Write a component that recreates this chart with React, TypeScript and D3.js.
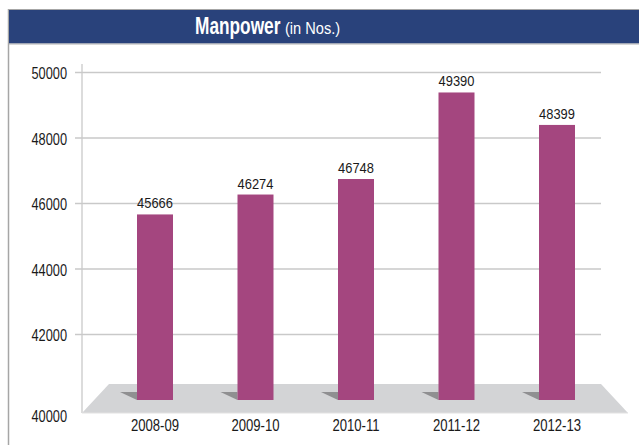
import * as d3 from 'd3'
import { useMemo } from 'react'

const categories = ['2008-09', '2009-10', '2010-11', '2011-12', '2012-13']
const manpower = [45666, 46274, 46748, 49390, 48399]
const yTicks = [40000, 42000, 44000, 46000, 48000, 50000]

const W = 639
const H = 445
const font = '"Liberation Sans", Arial, sans-serif'

// text squeezed horizontally, the original uses a narrow face
const Narrow = ({ x, y, sx = 0.82, anchor = 'middle', size = 16, weight = 'normal', fill = '#1a1a1a', children }: any) => (
  <g transform={`translate(${x},${y}) scale(${sx},1)`}>
    <text textAnchor={anchor} fontSize={size} fontWeight={weight} fill={fill} fontFamily={font}>
      {children}
    </text>
  </g>
)

const App = () => {
  const xScale = useMemo(() => d3.scalePoint<string>().domain(categories).range([155, 557]), [])
  const yScale = useMemo(() => d3.scaleLinear().domain([40000, 50000]).range([400, 72.5]), [])

  const barW = 36
  const base = yScale(40000)
  const floorBack = base - 16
  const floorFront = base + 13
  const floor = [[109, floorBack], [601, floorBack], [628, floorFront], [82, floorFront]]

  return (
    <svg width={W} height={H} style={{ position: 'absolute', left: 0, top: 0 }}>
      <rect x={0} y={0} width={W} height={H} fill="#fff" />
      {/* frame + header */}
      <line x1={8.5} x2={8.5} y1={9} y2={H} stroke="#a6a6a6" strokeWidth={1.5} />
      <line x1={8} x2={W} y1={9.5} y2={9.5} stroke="#a6a6a6" />
      <rect x={9} y={10} width={W - 9} height={33.5} fill="#29427b" />
      <line x1={9} x2={W} y1={44} y2={44} stroke="#b0b0b0" />
      <Narrow x={195} y={34} sx={0.72} size={24} weight="bold" fill="#fff" anchor="start">Manpower</Narrow>
      <Narrow x={285} y={34} sx={0.86} size={17} fill="#fff" anchor="start">(in Nos.)</Narrow>

      {/* grid */}
      {yTicks.filter((t) => t > 40000).map((t) => (
        <line key={t} x1={75} x2={601} y1={yScale(t)} y2={yScale(t)} stroke="#c9c9c9" strokeWidth={1.3} />
      ))}
      <line x1={82} x2={82} y1={64} y2={floorFront} stroke="#c9c9c9" strokeWidth={1.3} />

      {/* floor */}
      <polygon points={floor.map((p) => p.join(',')).join(' ')} fill="#d3d4d6" />
      <line x1={82} x2={628} y1={floorFront} y2={floorFront} stroke="#e2e2e2" />

      {yTicks.map((t) => (
        <Narrow key={t} x={67} y={t === 40000 ? floorFront + 9 : yScale(t) + 6.5} anchor="end" sx={0.8}>
          {t}
        </Narrow>
      ))}

      {/* bars with shadows */}
      {categories.map((c, i) => {
        const cx = xScale(c) as number
        const left = cx - barW / 2
        const top = yScale(manpower[i])
        return (
          <g key={c}>
            <polygon points={`${left - 17},${base - 8} ${left},${base - 8} ${left},${base}`} fill="#8f8f91" />
            <rect x={left} y={top} width={barW} height={base - top} fill="#a4467f" />
            <Narrow x={cx} y={top - 6} size={15} sx={0.86}>{manpower[i]}</Narrow>
            <Narrow x={cx} y={431} sx={0.82}>{c}</Narrow>
          </g>
        )
      })}
    </svg>
  )
}

export default App
